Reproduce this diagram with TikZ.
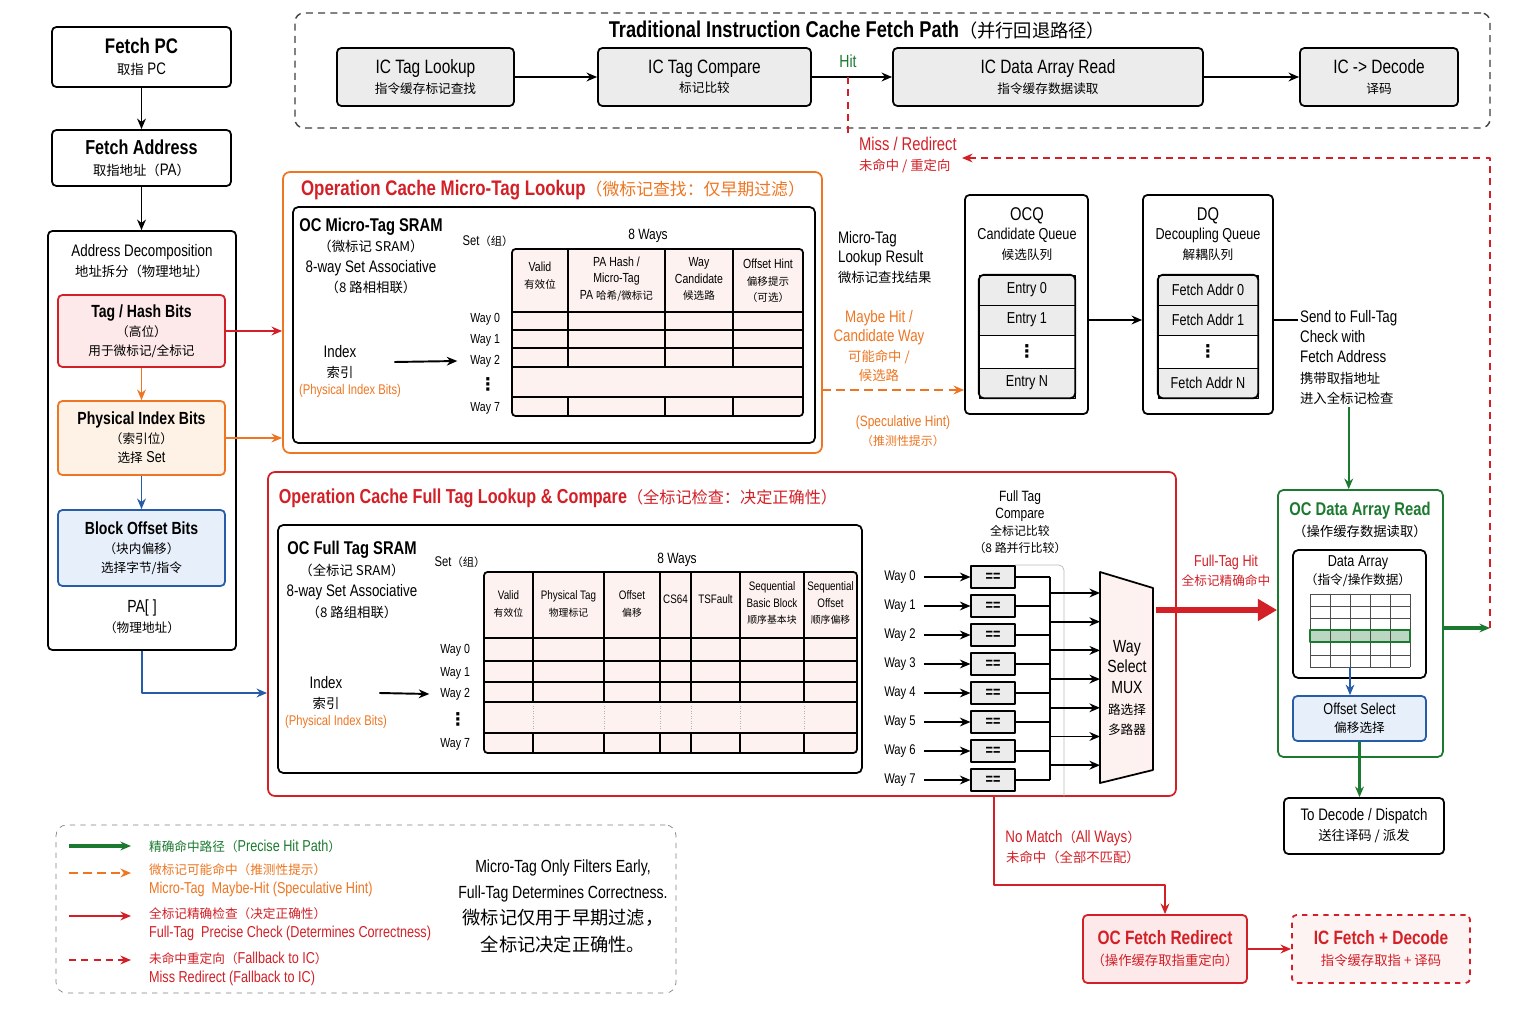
\documentclass[tikz,border=0pt]{standalone}
\usepackage{fontspec}
\setmainfont{Liberation Sans}[FakeStretch=0.8]
\newfontfamily\zhfont{Noto Sans CJK SC}[Scale=0.8]
\newfontfamily\symfont{DejaVu Sans}
\newcommand\zh[1]{{\zhfont #1}}
\newcommand\fsz[2]{\fontsize{#1}{#2}\selectfont}
\newcommand\vdt{{\symfont\bfseries ⋮}}
\usetikzlibrary{arrows.meta}
\definecolor{cred}{RGB}{211,32,39}
\definecolor{corg}{RGB}{238,118,34}
\definecolor{cgrn}{RGB}{28,122,48}
\definecolor{cblu}{RGB}{38,92,168}
\definecolor{fred}{RGB}{253,233,233}
\definecolor{forg}{RGB}{254,241,230}
\definecolor{fblu}{RGB}{231,239,250}
\definecolor{fgry}{RGB}{236,236,236}
\definecolor{fpnk}{RGB}{253,242,240}

\begin{document}
\begin{tikzpicture}[x=0.02cm, y=-0.02cm, >={Stealth[length=6pt,width=5pt]}, line join=round,
    wh/.style 2 args={minimum width=#1*0.02cm, minimum height=#2*0.02cm, inner sep=0pt},
    blk/.style={draw, line width=1pt, rounded corners=2.5pt, align=center, fill=white},
    gbox/.style={blk, fill=fgry},
    arr/.style={->, line width=1.1pt},
    grnarr/.style={->, cgrn, line width=1.4pt},
    specarr/.style={->, corg, line width=1.2pt, dash pattern=on 5pt off 3pt},
    missarr/.style={->, cred, line width=0.9pt, dash pattern=on 4pt off 3pt},
    lbl/.style={align=center, inner sep=1pt}]
    \useasboundingbox (0,0) rectangle (1536,1024);
    \fill[white] (0,0) rectangle (1536,1024);

    \node[blk, wh={179}{60}, font=\fsz{9.5}{12}] (fpc) at (141.5,57) {{\fsz{12}{14}\bfseries Fetch PC}\\\zh{取指} PC};
    \node[blk, wh={179}{56}, font=\fsz{9.5}{12}] (faddr) at (141.5,158) {{\fsz{11.5}{14}\bfseries Fetch Address}\\\zh{取指地址（}PA\zh{）}};
    \node[blk, wh={188}{419}] (adec) at (142,440.5) {};
    \node[lbl, font=\fsz{9.5}{11.5}] (adect) at (142,261) {Address Decomposition\\\zh{地址拆分（物理地址）}};
    \node[blk, draw=cred, fill=fred, wh={167}{72}, font=\fsz{9}{10.8}] (tagb) at (141.5,331) {{\fsz{10}{12}\bfseries Tag / Hash Bits}\\\zh{（高位）}\\\zh{用于微标记/全标记}};
    \node[blk, draw=corg, fill=forg, wh={167}{74}, font=\fsz{9}{10.8}] (pidx) at (141.5,438) {{\fsz{10}{12}\bfseries Physical Index Bits}\\\zh{（索引位）}\\\zh{选择} Set};
    \node[blk, draw=cblu, fill=fblu, wh={167}{76}, font=\fsz{9}{10.8}] (boff) at (141.5,548) {{\fsz{10}{12}\bfseries Block Offset Bits}\\\zh{（块内偏移）}\\\zh{选择字节/指令}};
    \node[lbl, font=\fsz{9}{11.5}] (pa) at (142,617) {{\fsz{10}{12}PA[ ]}\\\zh{（物理地址）}};

    \draw[arr] (fpc) -- (faddr);
    \draw[arr] (faddr.south) -- (faddr.south |- adec.north);
    \draw[arr, corg] (tagb) -- (pidx);
    \draw[arr, cblu] (pidx) -- (boff);

    \node[draw=black!75, line width=0.8pt, dash pattern=on 4pt off 3pt, rounded corners=5pt, wh={1195}{115}] (icpath) at (892.5,70.5) {};
    \node (ictitle) at (857,30) {\fsz{13}{15}\bfseries Traditional Instruction Cache Fetch Path\mdseries\zh{（并行回退路径）}};
    \node[gbox, wh={177}{58}, font=\fsz{9}{11}] (ictl) at (425.5,77) {{\fsz{11}{13}IC Tag Lookup}\\\zh{指令缓存标记查找}};
    \node[gbox, wh={213}{58}, font=\fsz{9}{11}] (ictc) at (704.5,77) {{\fsz{11}{13}IC Tag Compare}\\\zh{标记比较}};
    \node[gbox, wh={310}{58}, font=\fsz{9}{11}] (icda) at (1048,77) {{\fsz{11}{13}IC Data Array Read}\\\zh{指令缓存数据读取}};
    \node[gbox, wh={158}{58}, font=\fsz{9}{11}] (icdec) at (1379,77) {{\fsz{11}{13}IC -> Decode}\\\zh{译码}};
    \draw[arr] (ictl) -- (ictc);
    \draw[arr] (ictc) -- (icda);
    \draw[arr] (icda) -- (icdec);
    \node[text=cgrn] (hit) at (848,61) {\fsz{10}{12}Hit};
    \coordinate (hitpt) at (848,77);
    \node[anchor=west, align=left, text=cred, inner sep=1pt, font=\fsz{9.5}{11}] (miss) at (857,155) {{\fsz{10.5}{12}Miss / Redirect}\\\zh{未命中 / 重定向}};
    \draw[cred, line width=0.9pt, dash pattern=on 4pt off 3pt] (hitpt) -- (hitpt |- miss.north);

    \node[draw=corg, line width=1pt, rounded corners=4pt, wh={539}{281}] (mtbox) at (552.5,312.5) {};
    \node[text=cred] (mttitle) at (553,190) {\fsz{12}{14}\bfseries Operation Cache Micro-Tag Lookup\mdseries\color{corg}\zh{（微标记查找：仅早期过滤）}};
    \node[draw, line width=1pt, rounded corners=3pt, wh={522}{236}] (mtin) at (554,325) {};
    \node[lbl, font=\fsz{9.5}{11.5}] (mtname) at (371,256) {{\fsz{10.5}{12}\bfseries OC Micro-Tag SRAM}\\\zh{（微标记 SRAM）}\\8-way Set Associative\\\zh{（8 路相相联）}};
    \node (mtset) at (488,241) {\fsz{8}{10}Set\zh{（组）}};
    \node (mtways) at (648,236) {\fsz{8.5}{10}8 Ways};
    \fill[fpnk, rounded corners=2pt] (512,249) rectangle (803,416);
    \foreach \y in {312,330,348,367,397}
        \draw[semithick] (512,\y) -- (803,\y);
    \foreach \x in {568,665,733} {
        \draw[semithick] (\x,249) -- (\x,367);
        \draw[semithick] (\x,397) -- (\x,416);
    }
    \draw[line width=1pt, rounded corners=2pt] (512,249) rectangle (803,416);
    \node[lbl, font=\fsz{7.5}{9.5}] (mth1) at (540,276) {Valid\\\zh{有效位}};
    \node[lbl, font=\fsz{7.5}{9.5}] (mth2) at (616.5,279) {PA Hash /\\Micro-Tag\\PA \zh{哈希/微标记}};
    \node[lbl, font=\fsz{7.5}{9.5}] (mth3) at (699,279) {Way\\Candidate\\\zh{候选路}};
    \node[lbl, font=\fsz{7.5}{9.5}] (mth4) at (768,281) {Offset Hint\\\zh{偏移提示}\\\zh{（可选）}};
    \foreach \n/\y in {0/319,1/340,2/361,7/408}
        \node[anchor=east, inner sep=1pt] (mtw\n) at (502,\y) {\fsz{7.5}{9}Way \n};
    \node[inner sep=0pt] (mtdots) at (488,384) {\fsz{10}{10}\vdt};
    \node[lbl, font=\fsz{9.5}{11}] (mtidx) at (340,362) {Index\\\zh{索引}};
    \node[text=corg] (mtpib) at (350,391) {\fsz{8}{10}(Physical Index Bits)};
    \draw[arr] ([xshift=0.72cm]mtidx.east) -- ([xshift=-0.22cm]mtw2.west);
    \draw[arr, cred] (tagb.east) -- (tagb.east -| mtbox.west);
    \draw[arr, corg] (pidx.east) -- (pidx.east -| mtbox.west);

    \node[anchor=north west, align=left, inner sep=1pt, font=\fsz{9.5}{11.2}] (mtres) at (836,229) {Micro-Tag\\Lookup Result\\\zh{微标记查找结果}};
    \node[lbl, text=corg, font=\fsz{9.5}{10.9}] (maybe) at (879,346) {Maybe Hit /\\Candidate Way\\\zh{可能命中 /}\\\zh{候选路}};
    \node[lbl, text=corg, font=\fsz{8.5}{10.5}] (spech) at (903,431) {(Speculative Hint)\\\zh{（推测性提示）}};

    \node[blk, wh={123}{219}] (ocq) at (1026.5,304.5) {};
    \node[lbl, font=\fsz{9}{11}] (ocqt) at (1027,234) {{\fsz{10.5}{11.5}OCQ}\\Candidate Queue\\\zh{候选队列}};
    \node[draw, fill=fgry, wh={96}{30}] (oe0) at (1027,290) {\fsz{9}{11}Entry 0};
    \node[draw, fill=fgry, wh={96}{30}] (oe1) at (1027,320) {\fsz{9}{11}Entry 1};
    \node[draw, fill=white, wh={96}{33}] (oed) at (1027,351.5) {\fsz{10}{10}\vdt};
    \node[draw, fill=fgry, wh={96}{30}] (oen) at (1027,383) {\fsz{9}{11}Entry N};
    \draw[line width=1pt, rounded corners=3pt] (oe0.north west) rectangle (oen.south east);

    \node[blk, wh={130}{219}] (dq) at (1208,304.5) {};
    \node[lbl, font=\fsz{9}{11}] (dqt) at (1208,234) {{\fsz{10.5}{11.5}DQ}\\Decoupling Queue\\\zh{解耦队列}};
    \node[draw, fill=fgry, wh={100}{30}] (de0) at (1208,290) {\fsz{9}{11}Fetch Addr 0};
    \node[draw, fill=fgry, wh={100}{30}] (de1) at (1208,320) {\fsz{9}{11}Fetch Addr 1};
    \node[draw, fill=white, wh={100}{33}] (ded) at (1208,351.5) {\fsz{10}{10}\vdt};
    \node[draw, fill=fgry, wh={100}{30}] (den) at (1208,383) {\fsz{9}{11}Fetch Addr N};
    \draw[line width=1pt, rounded corners=3pt] (de0.north west) rectangle (den.south east);

    \coordinate (spec) at (822,390);
    \draw[specarr] (spec) -- (spec -| ocq.west);
    \draw[arr] (ocq.east |- oe1) -- (dq.west |- oe1);
    \node[anchor=north west, align=left, inner sep=1pt, font=\fsz{9.5}{11.6}] (send) at (1298,308) {Send to Full-Tag\\Check with\\Fetch Address\\\zh{携带取指地址}\\\zh{进入全标记检查}};
    \draw[semithick] (dq.east |- de1) -- (send.west |- de1);

    \node[draw=cred, line width=1pt, rounded corners=4pt, wh={908}{324}] (ftbox) at (722,634) {};
    \node[text=cred] (fttitle) at (558,498) {\fsz{11.5}{14}\bfseries Operation Cache Full Tag Lookup \& Compare\mdseries\zh{（全标记检查：决定正确性）}};
    \node[draw, line width=1pt, rounded corners=3pt, wh={584}{248}] (ftin) at (570,649) {};
    \node[lbl, font=\fsz{9.5}{11.8}] (ftname) at (352,580) {{\fsz{10.5}{12}\bfseries OC Full Tag SRAM}\\\zh{（全标记 SRAM）}\\8-way Set Associative\\\zh{（8 路组相联）}};
    \node (ftset) at (460,562) {\fsz{8}{10}Set\zh{（组）}};
    \node (ftways) at (677,560) {\fsz{8.5}{10}8 Ways};
    \fill[fpnk, rounded corners=2pt] (484,572) rectangle (857,753);
    \foreach \y in {638,661,682,702,733}
        \draw[semithick] (484,\y) -- (857,\y);
    \foreach \x in {533,604,660,691,740,804} {
        \draw[semithick] (\x,572) -- (\x,702);
        \draw[semithick] (\x,733) -- (\x,753);
        \draw[gray!60, densely dotted] (\x,706) -- (\x,729);
    }
    \draw[line width=1pt, rounded corners=2pt] (484,572) rectangle (857,753);
    \node[lbl, font=\fsz{7}{9.5}] (fth1) at (508.5,604) {Valid\\\zh{有效位}};
    \node[lbl, font=\fsz{7}{9.5}] (fth2) at (568.5,604) {Physical Tag\\\zh{物理标记}};
    \node[lbl, font=\fsz{7}{9.5}] (fth3) at (632,604) {Offset\\\zh{偏移}};
    \node[lbl, font=\fsz{7}{9.5}] (fth4) at (675.5,599) {CS64};
    \node[lbl, font=\fsz{7}{9.5}] (fth5) at (715.5,599) {TSFault};
    \node[lbl, font=\fsz{7}{9.5}] (fth6) at (772,603) {Sequential\\Basic Block\\\zh{顺序基本块}};
    \node[lbl, font=\fsz{7}{9.5}] (fth7) at (830.5,603) {Sequential\\Offset\\\zh{顺序偏移}};
    \foreach \n/\y in {0/650,1/673,2/694,7/744}
        \node[anchor=east, inner sep=1pt] (ftw\n) at (472,\y) {\fsz{7.5}{9}Way \n};
    \node[inner sep=0pt] (ftdots) at (458,719) {\fsz{10}{10}\vdt};
    \node[lbl, font=\fsz{9.5}{11}] (ftidx) at (326,693) {Index\\\zh{索引}};
    \node[text=corg] (ftpib) at (336,722) {\fsz{8}{10}(Physical Index Bits)};
    \draw[arr] ([xshift=0.7cm]ftidx.east) -- ([xshift=-0.18cm]ftw2.west);
    \draw[arr, cblu] (adec.south) |- (ftbox.west |- ftidx);

    \node[lbl, font=\fsz{8.5}{9.7}] (ftcmp) at (1020,522) {Full Tag\\Compare\\\zh{全标记比较}\\\zh{（8 路并行比较）}};
    \coordinate (bus) at (1050,577);
    \draw[gray!55, rounded corners=3pt] (1015,565) -| (1064,796);
    \foreach \i in {0,...,7} {
        \pgfmathsetmacro\yy{577+29*\i}
        \node[inner sep=1pt] (cw\i) at (900,\yy) {\fsz{8}{10}Way \i};
        \node[draw, semithick, fill=fgry, wh={44}{22}] (eq\i) at (993,\yy) {\fsz{9}{10}\bfseries ==};
        \draw[arr] ([xshift=0.12cm]cw\i.east) -- (eq\i.west);
        \draw[semithick] (eq\i.east) -- (eq\i.east -| bus);
    }
    \draw[semithick] (bus) -- (eq7.east -| bus);
    \coordinate (muxl) at (1100,572);
    \shade[left color=fpnk, right color=fred!80!red!20] (1100,572) -- (1153,588) -- (1153,770) -- (1100,783) -- cycle;
    \draw[line width=1pt] (1100,572) -- (1153,588) -- (1153,770) -- (1100,783) -- cycle;
    \foreach \j in {0,...,6} {
        \pgfmathsetmacro\yb{593+28.7*\j}
        \coordinate (b\j) at (1050,\yb);
        \draw[arr] (b\j) -- (b\j -| muxl);
    }
    \node[lbl, font=\fsz{10}{11.8}] (mux) at (1127,688) {Way\\Select\\MUX\\{\fsz{9}{9.5}\zh{路选择}}\\{\fsz{9}{9.5}\zh{多路器}}};

    \node[draw=cgrn, line width=1pt, rounded corners=3pt, wh={165}{267}] (ocda) at (1360.5,623.5) {};
    \node[lbl, font=\fsz{9.5}{11.5}] (ocdat) at (1360,520) {{\fsz{10.5}{12.5}\bfseries\color{cgrn}OC Data Array Read}\\\zh{（操作缓存数据读取）}};
    \node[draw, line width=1pt, rounded corners=3pt, wh={133}{128}] (darr) at (1359.5,614) {};
    \node[lbl, font=\fsz{9}{10.5}] (darrt) at (1358,571) {Data Array\\\zh{（指令/操作数据）}};
    \fill[cgrn!30] (1310,630) rectangle (1410,642);
    \foreach \x in {1310,1330,1350,1370,1390,1410}
        \draw[black!70] (\x,594) -- (\x,667);
    \foreach \y in {594,606,618,630,642,655,667}
        \draw[black!70] (1310,\y) -- (1410,\y);
    \draw[cgrn, line width=1pt] (1310,630) rectangle (1410,642);
    \coordinate (gbot) at (1350,667);
    \node[blk, draw=cblu, fill=fblu, wh={133}{45}, font=\fsz{9}{10.5}] (offs) at (1359.5,718.5) {Offset Select\\\zh{偏移选择}};
    \draw[->, cblu, semithick] (gbot) -- (gbot |- offs.north);
    \node[blk, wh={160}{56}, font=\fsz{9.5}{11.5}] (todec) at (1364,826) {To Decode / Dispatch\\\zh{送往译码 / 派发}};
    \draw[grnarr] (offs.south) -- (offs.south |- todec.north);
    \draw[grnarr] (send.south) -- (send.south |- ocda.north);

    \coordinate (muxo) at (1156,610);
    \draw[cred, line width=3.4pt, -{Triangle[length=11pt,width=12pt]}] (muxo) -- (muxo -| ocda.west);
    \node[lbl, text=cred, font=\fsz{9}{10.5}] (fthit) at (1226,571) {Full-Tag Hit\\\zh{全标记精确命中}};

    \coordinate (retpt) at (1490,628);
    \coordinate (retend) at (962,158);
    \draw[grnarr, line width=1.8pt] (ocda.east |- retpt) -- (retpt);
    \draw[missarr] (retpt) |- (retend);

    \coordinate (nm) at (994,796);
    \coordinate (nmt) at (994,885);
    \node[blk, draw=cred, fill=fred, text=cred, wh={164}{68}, font=\fsz{9.5}{12}] (ocfr) at (1165,949) {{\fsz{11}{13}\bfseries OC Fetch Redirect}\\\zh{（操作缓存取指重定向）}};
    \node[blk, draw=cred, dashed, fill=fred!55, text=cred, wh={178}{68}, font=\fsz{9.5}{12}] (icfd) at (1381,949) {{\fsz{11}{13}\bfseries IC Fetch + Decode}\\\zh{指令缓存取指 + 译码}};
    \draw[arr, cred] (nm) -- (nmt) -| (ocfr.north);
    \draw[arr, cred] (ocfr) -- (icfd);
    \node[lbl, text=cred, font=\fsz{9.5}{11}] (nomatch) at (1073,847) {No Match\zh{（}All Ways\zh{）}\\\zh{未命中（全部不匹配）}};

    \node[draw=gray, dashed, rounded corners=6pt, wh={620}{168}] (legend) at (366,909) {};
    \node[anchor=west, text=cgrn, inner sep=1pt, font=\fsz{9}{11}] (lg1) at (147,846) {\zh{精确命中路径（}Precise Hit Path\zh{）}};
    \node[anchor=west, align=left, text=corg, inner sep=1pt, font=\fsz{9}{11}] (lg2) at (147,880) {\zh{微标记可能命中（推测性提示）}\\Micro-Tag\ \ Maybe-Hit (Speculative Hint)};
    \node[anchor=west, align=left, text=cred, inner sep=1pt, font=\fsz{9}{11}] (lg3) at (147,924) {\zh{全标记精确检查（决定正确性）}\\Full-Tag\ \ Precise Check (Determines Correctness)};
    \node[anchor=west, align=left, text=cred, inner sep=1pt, font=\fsz{9}{11}] (lg4) at (147,969) {\zh{未命中重定向（}Fallback to IC\zh{）}\\Miss Redirect (Fallback to IC)};
    \draw[grnarr, line width=1.8pt] ([xshift=-1.56cm]lg1.west) -- ([xshift=-0.32cm]lg1.west);
    \draw[specarr] ([xshift=-1.56cm,yshift=0.14cm]lg2.west) -- ([xshift=-0.32cm,yshift=0.14cm]lg2.west);
    \draw[arr, cred] ([xshift=-1.56cm,yshift=0.16cm]lg3.west) -- ([xshift=-0.32cm,yshift=0.16cm]lg3.west);
    \draw[missarr, line width=1.1pt] ([xshift=-1.56cm,yshift=0.18cm]lg4.west) -- ([xshift=-0.32cm,yshift=0.18cm]lg4.west);
    \node[lbl, font=\fsz{10}{15}] (note) at (563,906) {Micro-Tag Only Filters Early,\\Full-Tag Determines Correctness.\\{\fsz{13}{15}\zh{微标记仅用于早期过滤，}}\\{\fsz{13}{15}\zh{全标记决定正确性。}}};
\end{tikzpicture}
\end{document}
